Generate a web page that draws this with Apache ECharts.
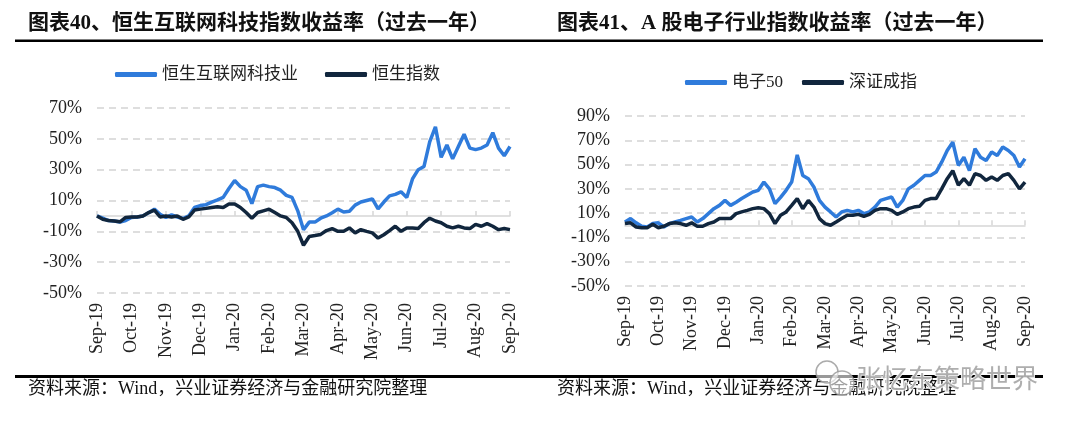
<!DOCTYPE html>
<html>
<head>
<meta charset="utf-8">
<script src="https://cdn.jsdelivr.net/npm/echarts@6/dist/echarts.min.js"></script>
<style>
html,body{margin:0;padding:0;background:#fff;}
#c{width:1080px;height:428px;}
</style>
</head>
<body>
<div id="c"></div>
<script>
// ---------- data ----------
const monthLabels = ['Sep-19','Oct-19','Nov-19','Dec-19','Jan-20','Feb-20','Mar-20','Apr-20','May-20','Jun-20','Jul-20','Aug-20','Sep-20'];
const pointsPerMonth = 6;

// Chart 40 (left): cumulative return, %
const hsTechReturn = [
  0, -1.5, -3, -3.3, -4, -3,
  -1, -0.7, 0, 2, 4.4, 1,
  -1, 0.7, -0.7, -1.7, 0, 5.5,
  6.7, 7.3, 9, 10.4, 12, 17.8,
  23, 19, 16.7, 8, 19, 20,
  19, 18.4, 16.7, 13.3, 12, 3.3,
  -9, -4, -4, -1.5, 0, 2,
  4.4, 2.5, 3, 7, 9, 10,
  11, 4.5, 9, 13, 14, 15.6,
  12, 24, 30, 32, 48, 57.8,
  38, 46, 37, 45, 53, 44,
  43, 44, 46, 54, 44, 39,
  45
];
const hsiReturn = [
  0, -2.2, -3, -3.3, -3.8, -1,
  -0.7, -0.7, 0, 2.2, 3.8, -0.7,
  0, -0.7, 0, -2.2, -0.7, 3.8,
  4.4, 4.9, 5.5, 6, 5.5, 7.8,
  7.8, 5.5, 2.2, -1.5, 2.2, 3.3,
  4.4, 2.2, 0, -1, -4.4, -10,
  -19, -13.3, -12.7, -12, -9.5, -8.2,
  -10, -10, -7.8, -11, -8.9, -10,
  -11, -14.4, -12.2, -9.5, -6.7, -10,
  -7.8, -7.8, -8.2, -4.4, -1.5, -3.3,
  -4.4, -6.7, -7.8, -6.7, -7.8, -8.2,
  -5.5, -6.7, -5, -6.7, -8.9, -8.2,
  -8.9
];

// Chart 41 (right): cumulative return, %
const elec50Return = [
  2.7, 5.5, 2, -0.8, -1.4, 1.4,
  2, -1.4, 1.4, 2.7, 4, 5.5,
  6.8, 2.7, 5.5, 9.6, 13.7, 16.4,
  20.5, 16.4, 19, 22, 24.7, 27.4,
  28.8, 35.6, 30, 17.8, 23, 28.8,
  35.6, 58, 41, 38.4, 31.5, 20.5,
  15, 11, 6.8, 11, 12.3, 11,
  12.3, 9.6, 11, 15, 20.5, 22,
  23.3, 15, 20.5, 30, 33, 37,
  41, 41, 43.8, 52, 61.6, 68.5,
  49.3, 56, 45, 63, 56, 53.4,
  60.3, 57.5, 64.4, 61.6, 57.5, 48,
  54.8
];
const szciReturn = [
  1.4, 2, -1.4, -2, -2, 0.8,
  -2, -0.8, 1.4, 2, 1.4, 0,
  2, -0.8, -0.8, 1.4, 2.7, 5.5,
  5.5, 5.5, 9.6, 11, 12.3, 13.7,
  14.5, 13.7, 9.6, 1.4, 8.2, 11,
  16.4, 22, 13.7, 20.5, 15, 5.5,
  1.4, 0, 2.7, 5.5, 8.2, 8.2,
  9, 7.4, 9, 12.3, 13.7, 13.7,
  12.3, 9, 11, 13.7, 15, 15.6,
  20.5, 22, 22, 30, 38.4, 45,
  33, 38.4, 33, 42.5, 41, 37,
  39.7, 37, 41, 42.5, 37, 30,
  35.6
];

const yTicksLeft = [-50, -30, -10, 10, 30, 50, 70];
const yTicksRight = [-50, -30, -10, 10, 30, 50, 70, 90];

const seriesNames = ['恒生互联网科技业', '恒生指数', '电子50', '深证成指'];
const titleLeft = '图表40、恒生互联网科技指数收益率（过去一年）';
const titleRight = '图表41、A 股电子行业指数收益率（过去一年）';
const sourceText = '资料来源：Wind，兴业证券经济与金融研究院整理';
const watermarkText = '张忆东策略世界';

// ---------- chart ----------
const BLUE = '#2f7bdb';
const NAVY = '#11263d';
const SERIF = '"Liberation Serif", "Noto Sans CJK SC", serif';
const nPts = (monthLabels.length - 1) * pointsPerMonth;
const toPairs = arr => arr.map((v, i) => [i, v]);

function xAxes(gridIndex) {
  return [
    {
      gridIndex, type: 'value', min: 0, max: nPts, interval: pointsPerMonth,
      axisLine: { show: true, onZero: true, lineStyle: { color: '#d6d6d6', width: 1.5 } },
      axisTick: { show: true, inside: true, length: 5, lineStyle: { color: '#d6d6d6', width: 1.5 } },
      axisLabel: { show: false }, splitLine: { show: false }
    },
    {
      gridIndex, type: 'value', min: 0, max: nPts, interval: pointsPerMonth, position: 'bottom',
      axisLine: { show: false, onZero: false }, axisTick: { show: false }, splitLine: { show: false },
      axisLabel: {
        show: true, rotate: 90, margin: 10, color: '#222', fontFamily: SERIF, fontSize: 18,
        showMinLabel: true, showMaxLabel: true,
        formatter: v => monthLabels[Math.round(v / pointsPerMonth)] || ''
      }
    }
  ];
}
function yAxis(gridIndex, ticks) {
  return {
    gridIndex, type: 'value', min: ticks[0], max: ticks[ticks.length - 1],
    axisLine: { show: false }, axisTick: { show: false, customValues: ticks },
    axisLabel: { customValues: ticks, formatter: '{value}%', color: '#222', fontFamily: SERIF, fontSize: 18, margin: 15 },
    splitLine: { show: true, lineStyle: { color: '#d4d4d4', width: 1.5, type: [7, 5] } }
  };
}
function lineSeries(name, data, color, xi, yi) {
  return {
    name, type: 'line', data: toPairs(data), xAxisIndex: xi, yAxisIndex: yi,
    showSymbol: false, symbol: 'none', lineStyle: { color, width: 3.5 }, itemStyle: { color },
    z: color === BLUE ? 2 : 3
  };
}

const chart = echarts.init(document.getElementById('c'));
chart.setOption({
  animation: false,
  backgroundColor: '#fff',
  grid: [
    { left: 97, top: 108, width: 413, height: 185 },
    { left: 625, top: 116, width: 400, height: 170 }
  ],
  xAxis: [...xAxes(0), ...xAxes(1)],
  yAxis: [yAxis(0, yTicksLeft), yAxis(1, yTicksRight)],
  legend: [
    {
      data: [seriesNames[0], seriesNames[1]], left: 110, top: 61, itemWidth: 42, itemHeight: 5, itemGap: 27,
      icon: 'roundRect', textStyle: { fontFamily: SERIF, fontSize: 17, color: '#222' }
    },
    {
      data: [seriesNames[2], seriesNames[3]], left: 680, top: 69, itemWidth: 42, itemHeight: 5, itemGap: 19,
      icon: 'roundRect', textStyle: { fontFamily: SERIF, fontSize: 17, color: '#222' }
    }
  ],
  series: [
    lineSeries(seriesNames[0], hsTechReturn, BLUE, 0, 0),
    lineSeries(seriesNames[1], hsiReturn, NAVY, 0, 0),
    lineSeries(seriesNames[2], elec50Return, BLUE, 2, 1),
    lineSeries(seriesNames[3], szciReturn, NAVY, 2, 1)
  ],
  graphic: [
    { type: 'text', left: 28, top: 13, style: { text: titleLeft, font: 'bold 21px ' + SERIF, fill: '#111' } },
    { type: 'text', left: 557, top: 13, style: { text: titleRight, font: 'bold 21px ' + SERIF, fill: '#111' } },
    { type: 'rect', shape: { x: 15, y: 39.5, width: 1028, height: 2.5 }, style: { fill: '#000' } },
    { type: 'rect', shape: { x: 15, y: 375, width: 1028, height: 3 }, style: { fill: '#000' } },
    { type: 'text', left: 28, top: 380, style: { text: sourceText, font: '18px ' + SERIF, fill: '#111' } },
    { type: 'text', left: 557, top: 380, style: { text: sourceText, font: '18px ' + SERIF, fill: '#111' } },
    { type: 'circle', shape: { cx: 827, cy: 372, r: 11 }, style: { fill: 'rgba(255,255,255,0.6)', stroke: 'rgba(150,150,150,0.8)', lineWidth: 1.5 }, z: 10 },
    { type: 'circle', shape: { cx: 842, cy: 383, r: 12 }, style: { fill: 'rgba(255,255,255,0.6)', stroke: 'rgba(150,150,150,0.8)', lineWidth: 1.5 }, z: 10 },
    { type: 'text', left: 855, top: 364, z: 10, style: { text: watermarkText, font: '26px "Noto Sans CJK SC"', fill: 'rgba(160,160,160,0.85)', stroke: 'rgba(255,255,255,0.9)', lineWidth: 2 } }
  ]
});
</script>
</body>
</html>
